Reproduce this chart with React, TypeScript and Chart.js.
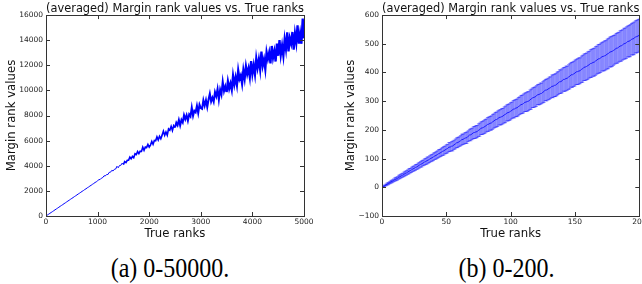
import React, { useEffect, useRef } from 'react';
import { Chart, registerables } from 'chart.js';

Chart.register(...registerables);

// ---------- data ----------
const TITLE = '(averaged) Margin rank values vs. True ranks';
const X_LABEL = 'True ranks';
const Y_LABEL = 'Margin rank values';
const CAPTION_A = '(a) 0-50000.';
const CAPTION_B = '(b) 0-200.';

// left panel: averaged margin rank, sampled every 25 true ranks (0..5000)
const LEFT_STEP = 25;
const leftValues = [
  0, 70, 140, 212, 280, 348, 420, 492, 560, 628, 700, 772, 840, 908, 982, 1048, 1120, 1192, 1258, 1332,
  1400, 1468, 1542, 1608, 1680, 1754, 1818, 1892, 1962, 2028, 2104, 2166, 2244, 2306, 2384, 2446, 2524, 2586, 2668, 2722,
  2810,
  2891, 2910, 3018, 3062, 3199, 3189, 3307, 3300, 3474, 3487, 3633, 3589, 3718, 3740, 3959, 3842, 4026, 4032, 4208, 4090,
  4335, 4257, 4440, 4442, 4687, 4557, 4748, 4640, 4954, 4895, 5132, 4965, 5157, 5140, 5482, 5225, 5492, 5460, 5697, 5485,
  5647, 5944, 5710, 6018, 5990, 6298, 6045, 6345, 6150, 6440, 6762, 6424, 6690, 6436, 6933, 6827, 7137, 6808, 7198, 7050,
  7431, 7227, 7647, 7217, 7647, 7447, 8034, 7712, 8024, 7595, 8094, 7925, 8630, 7979, 8377, 8258, 8769, 8205, 8864, 8595,
  8528, 9213, 8783, 9228, 8670, 9273, 9735, 9117, 9427, 9105, 9865, 9536, 10109, 9267, 10060, 9666, 10696, 9945, 10331, 9870,
  10713, 10147, 10543, 10054, 11167, 10479, 11035, 10426, 11584, 10915, 11190, 10551, 11597, 10947, 11910, 11300, 11747, 11067, 12335, 11315,
  11994, 11285, 12539, 11819, 12465, 11671, 13085, 11985, 12471, 11705, 13042, 12509, 13011, 12157, 13537, 12608, 13123, 12301, 13722, 12760,
  14008, 12833, 13567, 12770, 14052, 13313, 14616, 13109, 14150, 13735, 14652, 13239, 14521, 13805, 15180, 13726, 14529, 13715, 15719, 14150,
];
const leftXTicks = [0, 1000, 2000, 3000, 4000, 5000];
const leftYTicks = [0, 2000, 4000, 6000, 8000, 10000, 12000, 14000, 16000];

// right panel: mean margin rank and error half-width for true ranks 0..200
const rightMeans = [
  0, 3, 5, 8, 11, 13, 16, 19, 21, 24,
  27, 29, 31, 35, 37, 40, 42, 45, 48, 50,
  53, 56, 58, 61, 64, 66, 69, 71, 74, 77,
  80, 82, 85, 88, 90, 93, 95, 98, 101, 103,
  106, 109, 111, 114, 117, 119, 122, 125, 127, 130,
  133, 135, 140, 140, 143, 144, 148, 151, 155, 156,
  159, 162, 166, 167, 170, 172, 173, 178, 182, 183,
  186, 190, 191, 193, 194, 199, 201, 206, 207, 209,
  212, 215, 219, 220, 223, 224, 228, 231, 235, 236,
  239, 243, 244, 246, 248, 252, 254, 259, 260, 262,
  265, 268, 272, 273, 276, 277, 281, 284, 288, 289,
  292, 296, 297, 299, 300, 305, 307, 312, 313, 315,
  318, 323, 323, 326, 327, 331, 334, 339, 339, 342,
  345, 347, 352, 352, 355, 356, 360, 363, 368, 368,
  371, 376, 376, 379, 380, 384, 387, 392, 392, 395,
  398, 402, 403, 405, 406, 411, 413, 418, 419, 421,
  424, 427, 431, 432, 435, 436, 440, 443, 447, 448,
  451, 455, 456, 458, 460, 464, 466, 471, 472, 474,
  477, 480, 484, 485, 488, 492, 493, 496, 500, 501,
  504, 508, 509, 511, 516, 517, 519, 524, 525, 527,
  530,
];
const rightErrs = [
  0, 2, 3, 3, 4, 4, 4, 5, 5, 5,
  6, 6, 6, 7, 7, 7, 7, 8, 8, 8,
  8, 9, 8, 9, 9, 9, 10, 9, 10, 10,
  10, 11, 10, 11, 11, 12, 11, 12, 12, 12,
  13, 12, 13, 13, 14, 13, 14, 14, 15, 14,
  15, 15, 16, 15, 16, 17, 16, 17, 17, 18,
  17, 18, 19, 18, 19, 19, 20, 19, 20, 21,
  20, 21, 21, 22, 21, 22, 23, 22, 23, 23,
  24, 23, 24, 25, 24, 25, 26, 25, 26, 26,
  27, 26, 27, 28, 27, 28, 29, 28, 29, 29,
  30, 29, 30, 31, 30, 31, 32, 31, 32, 32,
  33, 32, 33, 34, 33, 34, 35, 34, 35, 35,
  36, 35, 36, 37, 36, 37, 38, 37, 38, 38,
  39, 38, 39, 40, 39, 40, 41, 40, 41, 41,
  42, 41, 42, 43, 42, 43, 44, 43, 44, 44,
  45, 44, 45, 46, 45, 46, 47, 46, 47, 47,
  48, 47, 48, 49, 48, 49, 50, 49, 50, 50,
  51, 50, 51, 52, 51, 52, 53, 52, 53, 53,
  52, 51, 52, 53, 52, 53, 54, 53, 54, 54,
  55, 54, 55, 56, 55, 56, 57, 56, 57, 57,
  56,
];
const rightXTicks = [0, 50, 100, 150, 200];
const rightYTicks = [-100, 0, 100, 200, 300, 400, 500, 600];

// ---------- styling ----------
const SANS = "'DejaVu Sans', sans-serif";
const CANVAS_H = 250;

const framePlugin = {
  id: 'mplFrame',
  afterDatasetsDraw(chart: any) {
    const { ctx, chartArea: a, scales } = chart;
    const x = scales.x;
    const y = scales.y;
    ctx.save();
    ctx.strokeStyle = '#333';
    ctx.lineWidth = 1;
    ctx.beginPath();
    const L = 4;
    x.ticks.forEach((t: any) => {
      const px = Math.round(x.getPixelForValue(t.value)) + 0.5;
      ctx.moveTo(px, a.bottom);
      ctx.lineTo(px, a.bottom - L);
      ctx.moveTo(px, a.top);
      ctx.lineTo(px, a.top + L);
    });
    y.ticks.forEach((t: any) => {
      const py = Math.round(y.getPixelForValue(t.value)) + 0.5;
      ctx.moveTo(a.left, py);
      ctx.lineTo(a.left + L, py);
      ctx.moveTo(a.right, py);
      ctx.lineTo(a.right - L, py);
    });
    ctx.stroke();
    ctx.strokeRect(
      Math.round(a.left) + 0.5,
      Math.round(a.top) + 0.5,
      Math.round(a.right) - Math.round(a.left),
      Math.round(a.bottom) - Math.round(a.top)
    );
    ctx.restore();
  },
};

const fmt = (v: any) => {
  const n = Number(v);
  return n < 0 ? '\u2212' + Math.abs(n) : String(n);
};

function baseOptions(p: {
  xMin: number; xMax: number; yMin: number; yMax: number;
  xTicks: number[]; yTicks: number[];
  yAxisW: number; padRight: number; yTitlePad: number;
}) {
  return {
    animation: false,
    responsive: false,
    devicePixelRatio: 1,
    layout: { padding: { left: 0, right: p.padRight, top: 0, bottom: 0 } },
    plugins: {
      legend: { display: false },
      tooltip: { enabled: false },
      title: {
        display: true,
        text: TITLE,
        fullSize: false,
        color: '#111',
        font: { family: SANS, size: 11.7, weight: 'normal', lineHeight: 1.1 },
        padding: { top: 2.2, bottom: 0 },
      },
    },
    scales: {
      x: {
        type: 'linear',
        min: p.xMin,
        max: p.xMax,
        offset: false,
        grid: { display: false, drawTicks: false },
        border: { display: false },
        ticks: {
          color: '#222',
          padding: 2,
          maxRotation: 0,
          autoSkip: false,
          font: { family: SANS, size: 7.5 },
          callback: fmt,
        },
        afterBuildTicks: (s: any) => { s.ticks = p.xTicks.map((v) => ({ value: v })); },
        afterFit: (s: any) => { s.height = CANVAS_H - 216; },
        title: {
          display: true,
          text: X_LABEL,
          color: '#111',
          font: { family: SANS, size: 11.7, lineHeight: 1.2 },
          padding: { top: 0, bottom: 9 },
        },
      },
      y: {
        type: 'linear',
        min: p.yMin,
        max: p.yMax,
        grid: { display: false, drawTicks: false },
        border: { display: false },
        ticks: {
          color: '#222',
          padding: 3,
          autoSkip: false,
          font: { family: SANS, size: 7.5 },
          callback: fmt,
        },
        afterBuildTicks: (s: any) => { s.ticks = p.yTicks.map((v) => ({ value: v })); },
        afterFit: (s: any) => { s.width = p.yAxisW; },
        title: {
          display: true,
          text: Y_LABEL,
          color: '#111',
          font: { family: SANS, size: 11.7, lineHeight: 1.2 },
          padding: { top: p.yTitlePad, bottom: 0 },
        },
      },
    },
  };
}

function LeftChart() {
  const ref = useRef<HTMLCanvasElement>(null);
  useEffect(() => {
    if (!ref.current) return;
    const points = leftValues.map((v, i) => ({ x: i * LEFT_STEP, y: v }));
    const chart = new Chart(ref.current, {
      type: 'line',
      data: {
        datasets: [
          {
            data: points,
            borderColor: '#0000ff',
            borderWidth: 1,
            pointRadius: 0,
            tension: 0,
            fill: false,
            segment: {
              borderWidth: (c: any) => {
                const xv = c.p0.parsed.x;
                if (xv < 1500) return 1;
                if (xv < 2500) return 1.6;
                if (xv < 3500) return 2;
                return 2.3;
              },
            },
          },
        ],
      } as any,
      options: baseOptions({
        xMin: 0, xMax: 5000, yMin: 0, yMax: 16000,
        xTicks: leftXTicks, yTicks: leftYTicks,
        yAxisW: 46, padRight: 17, yTitlePad: 4.5,
      }) as any,
      plugins: [framePlugin],
    });
    return () => chart.destroy();
  }, []);
  return (
    <canvas
      ref={ref}
      width={321}
      height={CANVAS_H}
      style={{ position: 'absolute', left: 0, top: 0, width: 321, height: CANVAS_H }}
    />
  );
}

function RightChart() {
  const ref = useRef<HTMLCanvasElement>(null);
  useEffect(() => {
    if (!ref.current) return;
    const bars = rightMeans.map((m, i) => ({ x: i, y: [m - rightErrs[i], m + rightErrs[i]] }));
    const capsHi = rightMeans.map((m, i) => ({ x: i, y: m + rightErrs[i] }));
    const capsLo = rightMeans.map((m, i) => ({ x: i, y: m - rightErrs[i] }));
    const mean = rightMeans.map((m, i) => ({ x: i, y: m }));
    const capColor = 'rgba(0,0,255,0.4)';
    const chart = new Chart(ref.current, {
      type: 'bar',
      data: {
        datasets: [
          {
            type: 'bar',
            data: bars as any,
            backgroundColor: 'rgba(0,0,255,0.4)',
            borderWidth: 0,
            barThickness: 1,
            order: 3,
          },
          {
            type: 'scatter',
            data: capsHi,
            pointStyle: 'line',
            pointRadius: 1.6,
            pointBorderColor: capColor,
            pointBackgroundColor: capColor,
            pointBorderWidth: 1,
            showLine: false,
            order: 2,
          },
          {
            type: 'scatter',
            data: capsLo,
            pointStyle: 'line',
            pointRadius: 1.6,
            pointBorderColor: capColor,
            pointBackgroundColor: capColor,
            pointBorderWidth: 1,
            showLine: false,
            order: 2,
          },
          {
            type: 'line',
            data: mean,
            borderColor: '#1a1aff',
            borderWidth: 1,
            pointRadius: 0,
            tension: 0,
            fill: false,
            order: 1,
          },
        ],
      } as any,
      options: baseOptions({
        xMin: 0, xMax: 200, yMin: -100, yMax: 600,
        xTicks: rightXTicks, yTicks: rightYTicks,
        yAxisW: 61, padRight: 21.7, yTitlePad: 23,
      }) as any,
      plugins: [framePlugin],
    });
    return () => chart.destroy();
  }, []);
  return (
    <canvas
      ref={ref}
      width={340}
      height={CANVAS_H}
      style={{ position: 'absolute', left: 321, top: 0, width: 340, height: CANVAS_H }}
    />
  );
}

function Caption({ text, cx }: { text: string; cx: number }) {
  return (
    <div
      style={{
        position: 'absolute',
        left: cx - 100,
        top: 257,
        width: 200,
        textAlign: 'center',
        fontFamily: "'Liberation Serif', 'Times New Roman', serif",
        fontSize: 24,
        lineHeight: '24px',
        color: '#000',
        transform: 'scaleY(1.12)',
        transformOrigin: 'center 20px',
        whiteSpace: 'nowrap',
      }}
    >
      {text}
    </div>
  );
}

export default function App() {
  useEffect(() => {
    document.body.style.margin = '0';
    document.body.style.overflow = 'hidden';
  }, []);
  return (
    <div
      style={{
        position: 'fixed',
        left: 0,
        top: 0,
        width: 642,
        height: 284,
        overflow: 'hidden',
        background: '#fff',
      }}
    >
      <LeftChart />
      <RightChart />
      <Caption text={CAPTION_A} cx={170} />
      <Caption text={CAPTION_B} cx={506.5} />
    </div>
  );
}
